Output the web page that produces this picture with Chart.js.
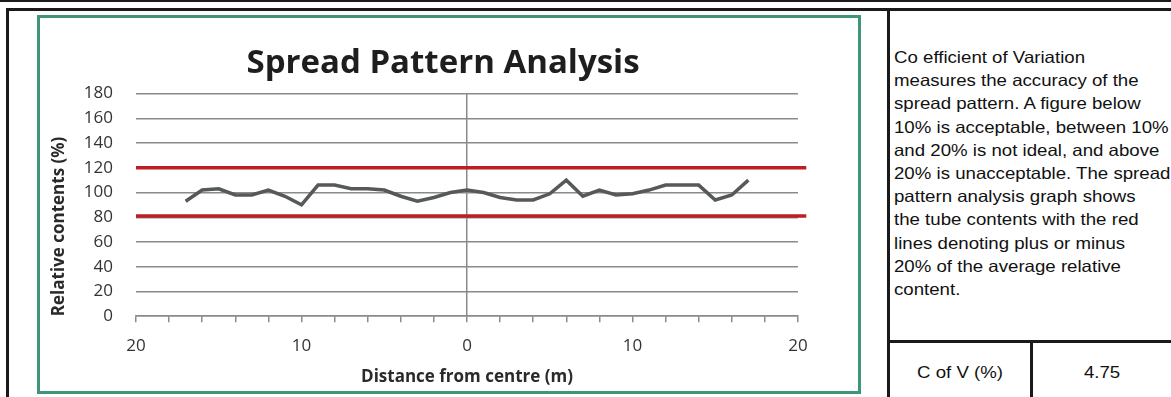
<!DOCTYPE html>
<html lang="en">
<head>
    <meta charset="UTF-8">
    <title>Spread Pattern Analysis</title>
    <script src="https://cdn.jsdelivr.net/npm/chart.js"></script>
    <style>
        html, body {
            margin: 0;
            padding: 0;
            background: #fff;
            width: 1171px;
            height: 397px;
            overflow: hidden;
            position: relative;
        }
        .rule { position: absolute; background: #1a1a1a; }
        #frame {
            position: absolute;
            left: 37px; top: 15px;
            width: 818px; height: 373px;
            border: 3px solid #3f9676;
        }
        #chartBox {
            position: absolute;
            left: 0; top: 0;
            width: 818px; height: 373px;
        }
        #note {
            position: absolute;
            left: 894px; top: 46px;
            font-family: "Liberation Sans", Arial, sans-serif;
            font-size: 16.5px;
            line-height: 23.2px;
            color: #111;
            white-space: nowrap;
            transform: scaleX(1.13);
            transform-origin: left top;
        }
        .cell {
            position: absolute;
            top: 343px; height: 54px;
            line-height: 58px;
            text-align: center;
            font-family: "Liberation Sans", Arial, sans-serif;
            font-size: 16.5px;
            color: #111;
        }
        .cell span { display: inline-block; transform: scaleX(1.13); }
    </style>
</head>
<body>
    <!-- table rules -->
    <div class="rule" style="left:0;top:0;width:1171px;height:2px;"></div>
    <div class="rule" style="left:6px;top:8px;width:1165px;height:3px;"></div>
    <div class="rule" style="left:6px;top:8px;width:3px;height:389px;"></div>
    <div class="rule" style="left:887px;top:8px;width:3px;height:389px;"></div>
    <div class="rule" style="left:887px;top:340px;width:284px;height:3px;"></div>
    <div class="rule" style="left:1030px;top:340px;width:3px;height:57px;"></div>

    <div id="frame">
        <div id="chartBox"><canvas id="spreadChart"></canvas></div>
    </div>

    <div id="note">
        Co efficient of Variation<br>
        measures the accuracy of the<br>
        spread pattern. A figure below<br>
        10% is acceptable, between 10%<br>
        and 20% is not ideal, and above<br>
        20% is unacceptable. The spread<br>
        pattern analysis graph shows<br>
        the tube contents with the red<br>
        lines denoting plus or minus<br>
        20% of the average relative<br>
        content.
    </div>
    <div class="cell" style="left:890px;width:140px;"><span>C of V (%)</span></div>
    <div class="cell" style="left:1033px;width:138px;"><span>4.75</span></div>

    <script>
        // distance from centre (m) and relative tube contents (%)
        const distances = [-17, -16, -15, -14, -13, -12, -11, -10, -9, -8, -7, -6, -5, -4, -3, -2, -1,
                           0, 1, 2, 3, 4, 5, 6, 7, 8, 9, 10, 11, 12, 13, 14, 15, 16, 17];
        const contents = [93, 102, 103, 98, 98, 102, 97, 90, 106, 106, 103, 103, 102, 97, 93, 96, 100,
                          102, 100, 96, 94, 94, 99, 110, 97, 102, 98, 99, 102, 106, 106, 106, 94, 98, 110];

        // +/- 20% band
        const limitX = [-20, 20.5];
        const upperLimit = [120, 120];
        const lowerLimit = [81, 81];

        const xTicks = [-20, -10, 0, 10, 20];

        const toPoints = (xs, ys) => xs.map((x, i) => ({ x: x, y: ys[i] }));

        const fam = '"Open Sans", Lato, sans-serif';
        const labelFont = { family: fam, size: 17 };
        const axisTitleFont = { family: fam, size: 17, weight: 'bold' };

        const ctx = document.getElementById('spreadChart').getContext('2d');
        const chart = new Chart(ctx, {
            type: 'line',
            data: {
                datasets: [
                    {
                        data: toPoints(limitX, upperLimit),
                        borderColor: '#bd1e24',
                        borderWidth: 3.5,
                        pointRadius: 0,
                        clip: false
                    },
                    {
                        data: toPoints(limitX, lowerLimit),
                        borderColor: '#bd1e24',
                        borderWidth: 3.5,
                        pointRadius: 0,
                        clip: false
                    },
                    {
                        data: toPoints(distances, contents),
                        borderColor: '#555a58',
                        borderWidth: 3.5,
                        pointRadius: 0,
                        tension: 0
                    }
                ]
            },
            options: {
                responsive: true,
                maintainAspectRatio: false,
                animation: false,
                layout: { padding: { left: 8, right: 20, top: 26, bottom: 4 } },
                plugins: {
                    legend: { display: false },
                    tooltip: { enabled: false },
                    title: {
                        display: true,
                        text: 'Spread Pattern Analysis',
                        color: '#1e1e1e',
                        font: { family: fam, size: 33, weight: 'bold' },
                        padding: { top: 0, bottom: 10 }
                    }
                },
                scales: {
                    x: {
                        type: 'linear',
                        min: -20,
                        max: 20,
                        ticks: {
                            stepSize: 2,
                            autoSkip: false,
                            maxRotation: 0,
                            color: '#333',
                            font: labelFont,
                            padding: 14,
                            callback: v => xTicks.includes(v) ? Math.abs(v) : ''
                        },
                        grid: {
                            drawOnChartArea: true,
                            color: c => (c.tick && c.tick.value === 0) ? '#8a8a8a' : 'rgba(0,0,0,0)',
                            tickColor: '#8a8a8a',
                            tickLength: 6,
                            lineWidth: 1.5
                        },
                        border: { display: true, color: '#8a8a8a', width: 1.5 },
                        title: {
                            display: true,
                            text: 'Distance from centre (m)',
                            color: '#2a2a2a',
                            font: axisTitleFont,
                            padding: { top: -4, bottom: 0 }
                        }
                    },
                    y: {
                        min: 0,
                        max: 180,
                        afterFit: scale => { scale.width = 88; },
                        ticks: {
                            stepSize: 20,
                            color: '#333',
                            font: labelFont,
                            padding: 23
                        },
                        grid: {
                            color: '#8a8a8a',
                            lineWidth: 1.5,
                            drawTicks: false
                        },
                        border: { display: false },
                        title: {
                            display: true,
                            text: 'Relative contents (%)',
                            align: 'start',
                            color: '#2a2a2a',
                            font: axisTitleFont,
                            padding: { top: 1, bottom: 0 }
                        }
                    },
                    // blank right-hand margin so the title centres on the whole frame
                    yRight: {
                        position: 'right',
                        min: 0,
                        max: 180,
                        afterFit: scale => { scale.width = 40; },
                        ticks: { display: false },
                        grid: { display: false },
                        border: { display: false }
                    }
                }
            }
        });
    </script>
</body>
</html>
